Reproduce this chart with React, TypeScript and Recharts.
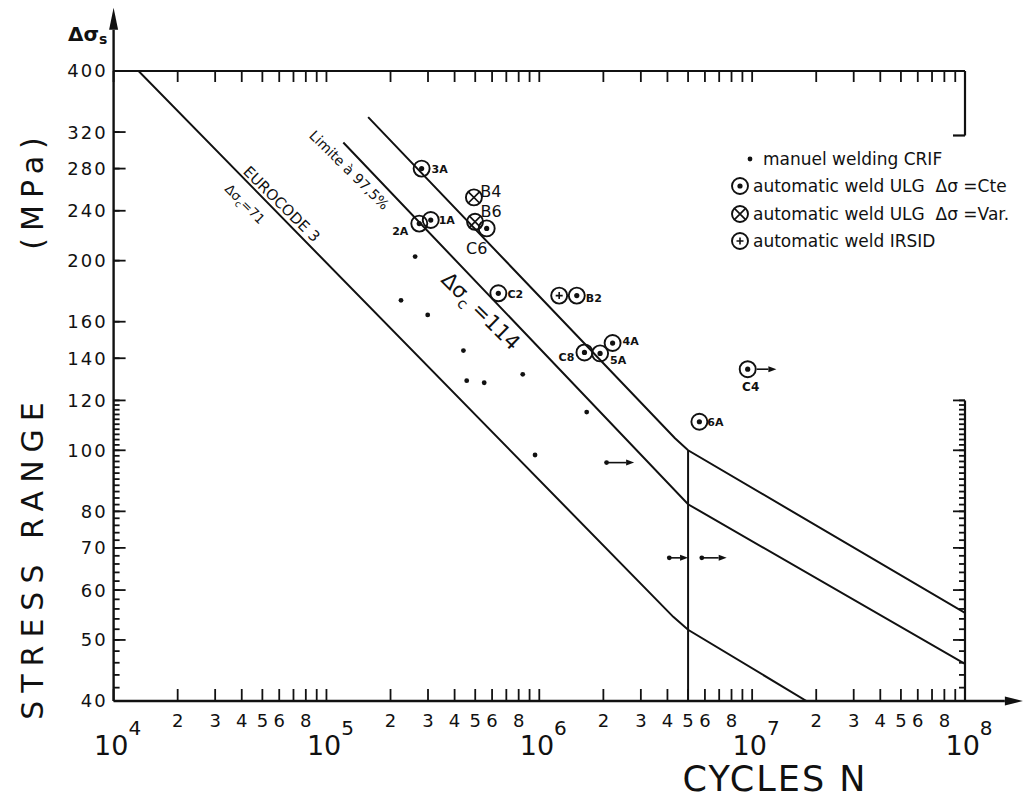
import React from "react";
import {
  ComposedChart,
  Legend,
  Line,
  ReferenceDot,
  ReferenceLine,
  Scatter,
  XAxis,
  YAxis,
} from "recharts";

const INK = "#111";
const FONT = "'DejaVu Sans', sans-serif";

// S-N curves, N cycles vs stress range (MPa), vertices
const eurocodeCurve = [
  { n: 1.31e4, s: 400 },
  { n: 4.26e6, s: 54.4 },
  { n: 5.0e6, s: 51.9 },
  { n: 1.8e7, s: 40 },
];
const curve114 = [
  { n: 1.2e5, s: 308 },
  { n: 5.0e6, s: 82.1 },
  { n: 1.0e8, s: 45.8 },
];
const upperCurve = [
  { n: 1.57e5, s: 338 },
  { n: 4.34e6, s: 104.5 },
  { n: 5.0e6, s: 100 },
  { n: 1.0e8, s: 55.2 },
];
const cutOffLine = [
  { n: 5.0e6, s: 100 },
  { n: 5.0e6, s: 40 },
];

// test results
const crifWelds = [
  { n: 2.61e5, s: 203 },
  { n: 2.24e5, s: 173 },
  { n: 2.99e5, s: 164 },
  { n: 4.4e5, s: 144 },
  { n: 4.56e5, s: 129 },
  { n: 5.51e5, s: 128 },
  { n: 8.36e5, s: 132 },
  { n: 9.55e5, s: 98.3 },
  { n: 1.67e6, s: 115 },
  { n: 2.07e6, s: 95.6 },
  { n: 4.08e6, s: 67.5 },
  { n: 5.8e6, s: 67.5 },
];
const ulgConstant = [
  { id: "3A", n: 2.8e5, s: 280 },
  { id: "2A", n: 2.73e5, s: 229 },
  { id: "1A", n: 3.09e5, s: 232 },
  { id: "C6", n: 5.66e5, s: 225 },
  { id: "C2", n: 6.42e5, s: 177.5 },
  { id: "B2", n: 1.5e6, s: 176 },
  { id: "C8", n: 1.63e6, s: 143 },
  { id: "5A", n: 1.93e6, s: 142.5 },
  { id: "4A", n: 2.21e6, s: 148 },
  { id: "6A", n: 5.65e6, s: 111 },
  { id: "C4", n: 9.53e6, s: 134.5 },
];
const ulgVariable = [
  { id: "B4", n: 4.93e5, s: 252 },
  { id: "B6", n: 4.99e5, s: 230.5 },
];
const irsidWelds = [{ id: "", n: 1.24e6, s: 176 }];

// run-outs (no failure): arrow from the result to the right
const runOuts = [
  { n: 2.07e6, s: 95.6, to: 2.79e6 },
  { n: 4.08e6, s: 67.5, to: 5.0e6 },
  { n: 5.8e6, s: 67.5, to: 7.59e6 },
  { n: 1.05e7, s: 134.5, to: 1.3e7 },
];

// ticks
const decades = [1e4, 1e5, 1e6, 1e7];
const decadeSteps = [1, 2, 3, 4, 5, 6, 7, 8, 9];
const numberedSteps = [2, 3, 4, 5, 6, 8];
const stressLabels = [40, 50, 60, 70, 80, 100, 120, 140, 160, 200, 240, 280, 320, 400];

const cycleTicks = decades.flatMap((d) => decadeSteps.map((k) => k * d)).concat(1e8);
const fineStress: number[] = [];
for (let v = 40; v <= 120; v += 2) fineStress.push(v);
const leftTicks = Array.from(new Set([...fineStress, ...stressLabels])).sort((a, b) => a - b);

const seriesNames = {
  crif: "manuel welding CRIF",
  ulgCte: "automatic weld ULG  Δσ =Cte",
  ulgVar: "automatic weld ULG  Δσ =Var.",
  irsid: "automatic weld IRSID",
};

const curveNotes = [
  { key: "ec3", n: 6.16e4, s: 246, text: "EUROCODE 3" },
  { key: "dc71", n: 4.14e4, s: 246, text: "Δσ", sub: "c", tail: "=71" },
  { key: "lim", n: 1.28e5, s: 278.5, text: "Limite à 97,5%" },
  { key: "dc114", n: 5.32e5, s: 166.4, text: "Δσ", sub: "c", tail: " =114" },
];
const noteSize: Record<string, number> = { ec3: 15, dc71: 13, lim: 14, dc114: 21 };

const idOffset: Record<string, [number, number]> = {
  "3A": [18, 0],
  "2A": [-19, 7],
  "1A": [16, 0],
  C6: [-10, 20],
  C2: [17, 1],
  B2: [17, 2],
  "4A": [18, -2],
  C8: [-18, 5],
  "5A": [18, 7],
  "6A": [16, 0],
  C4: [3, 17],
  B4: [17, -6],
  B6: [16, -11],
};

const tickStroke = { stroke: INK, strokeWidth: 1.8 };

function split(v: number) {
  const e = Math.floor(Math.log10(v) + 1e-9);
  return { k: Math.round(v / Math.pow(10, e)), e };
}

// bottom axis: tick lines point up 12px, so y here is 12px above the axis
function CycleLabel({ x, y, payload }: any) {
  const { k, e } = split(payload.value);
  const base = y + 12;
  if (k === 1) {
    return (
      <text x={x + 4} y={base + 54} textAnchor="middle" fontSize={27} fill={INK} fontFamily={FONT}>
        10
        <tspan fontSize={20} dy={-20}>
          {e}
        </tspan>
      </text>
    );
  }
  if (!numberedSteps.includes(k)) return <g />;
  return (
    <text x={x} y={base + 26} textAnchor="middle" fontSize={18} fill={INK} fontFamily={FONT}>
      {k}
    </text>
  );
}

// left axis: tick lines point right 6px; labelled values get a longer tick
function StressLabel({ x, y, payload }: any) {
  const v = payload.value;
  if (!stressLabels.includes(v)) return <g />;
  const axisX = x - 6;
  const edge = v === 40 || v === 400;
  return (
    <g>
      {!edge && <line x1={axisX} x2={axisX + 12} y1={y} y2={y} {...tickStroke} />}
      <text
        x={axisX - 6}
        y={y}
        dy="0.36em"
        textAnchor="end"
        fontSize={18}
        letterSpacing={2}
        fill={INK}
        fontFamily={FONT}
      >
        {v}
      </text>
    </g>
  );
}

function RightMajor({ x, y, payload }: any) {
  const v = payload.value;
  if (v === 40 || !stressLabels.includes(v)) return <g />;
  const axisX = x + 6;
  return <line x1={axisX} x2={axisX - 12} y1={y} y2={y} {...tickStroke} />;
}

function Marker({ kind, cx, cy }: { kind: string; cx: number; cy: number }) {
  if (kind === "crif") return <circle cx={cx} cy={cy} r={2.4} fill={INK} />;
  const ring = <circle cx={cx} cy={cy} r={8} fill="none" stroke={INK} strokeWidth={1.9} />;
  if (kind === "ulgCte")
    return (
      <g>
        {ring}
        <circle cx={cx} cy={cy} r={2.6} fill={INK} />
      </g>
    );
  if (kind === "ulgVar") {
    const d = 5.6;
    return (
      <g>
        {ring}
        <path
          d={`M${cx - d} ${cy - d}L${cx + d} ${cy + d}M${cx - d} ${cy + d}L${cx + d} ${cy - d}`}
          stroke={INK}
          strokeWidth={1.7}
        />
      </g>
    );
  }
  return (
    <g>
      {ring}
      <path d={`M${cx - 3.5} ${cy}H${cx + 3.5}M${cx} ${cy - 3.5}V${cy + 3.5}`} stroke={INK} strokeWidth={1.6} />
    </g>
  );
}

function PointMark(props: any) {
  const { cx, cy, payload, kind } = props;
  const id: string = payload?.id || "";
  const off = idOffset[id];
  const big = id === "B4" || id === "B6" || id === "C6";
  return (
    <g>
      <Marker kind={kind} cx={cx} cy={cy} />
      {off && (
        <text
          x={cx + off[0]}
          y={cy + off[1]}
          dy="0.36em"
          textAnchor="middle"
          fontSize={big ? 16 : id === "C4" ? 12 : 11}
          fontWeight={big ? "normal" : "bold"}
          fill={INK}
          fontFamily={FONT}
        >
          {id}
        </text>
      )}
    </g>
  );
}

function arrowShape(head: number, half: number, sw: number) {
  return (p: any) => {
    const { x1, y1, x2, y2 } = p;
    const a = Math.atan2(y2 - y1, x2 - x1);
    const bx = x2 - head * Math.cos(a);
    const by = y2 - head * Math.sin(a);
    const px = -Math.sin(a) * half;
    const py = Math.cos(a) * half;
    return (
      <g>
        <line x1={x1} y1={y1} x2={bx} y2={by} stroke={INK} strokeWidth={sw} />
        <polygon points={`${x2},${y2} ${bx + px},${by + py} ${bx - px},${by - py}`} fill={INK} />
      </g>
    );
  };
}

function frameShape(p: any) {
  return <line x1={p.x1} y1={p.y1} x2={p.x2} y2={p.y2} stroke={INK} strokeWidth={2.2} />;
}

function noteShape(note: any) {
  const size = noteSize[note.key];
  return (p: any) => (
    <text
      x={p.cx}
      y={p.cy}
      dy="0.35em"
      transform={`rotate(44.6 ${p.cx} ${p.cy})`}
      textAnchor="middle"
      fontSize={size}
      fill={INK}
      fontFamily={FONT}
    >
      {note.text}
      {note.sub && (
        <tspan fontSize={size * 0.72} dy={size * 0.25}>
          {note.sub}
        </tspan>
      )}
      {note.tail && <tspan dy={-size * 0.25}>{note.tail}</tspan>}
    </text>
  );
}

function LegendBox() {
  const rows = [
    { kind: "crif", label: seriesNames.crif },
    { kind: "ulgCte", label: seriesNames.ulgCte },
    { kind: "ulgVar", label: seriesNames.ulgVar },
    { kind: "irsid", label: seriesNames.irsid },
  ];
  return (
    <div style={{ fontFamily: FONT, fontSize: 17, color: INK }}>
      {rows.map((r) => (
        <div key={r.kind} style={{ display: "flex", alignItems: "center", height: 27.5 }}>
          <svg width={25} height={22} style={{ flex: "none" }}>
            <Marker kind={r.kind} cx={r.kind === "crif" ? 22 : 12} cy={11} />
          </svg>
          <span style={{ whiteSpace: "pre", marginLeft: r.kind === "crif" ? 10 : 0 }}>{r.label}</span>
        </div>
      ))}
    </div>
  );
}

export default function App() {
  return (
    <div style={{ width: 1025, height: 798, background: "#fff", fontFamily: FONT }}>
      <style>{"body{margin:0}"}</style>
      <ComposedChart width={1025} height={798} margin={{ top: 61, right: 50, bottom: 7, left: 53.6 }}>
        <XAxis
          dataKey="n"
          type="number"
          scale="log"
          domain={[1e4, 1e8]}
          allowDataOverflow
          ticks={cycleTicks}
          interval={0}
          tick={(p: any) => <CycleLabel {...p} />}
          tickSize={-12}
          tickMargin={0}
          tickLine={tickStroke}
          axisLine={false}
          height={90}
        />
        <XAxis
          xAxisId="top"
          orientation="top"
          dataKey="n"
          type="number"
          scale="log"
          domain={[1e4, 1e8]}
          allowDataOverflow
          ticks={cycleTicks}
          interval={0}
          tick={() => <g />}
          tickSize={-11}
          tickMargin={0}
          tickLine={tickStroke}
          axisLine={{ stroke: INK, strokeWidth: 2.2 }}
          height={10}
        />
        <YAxis
          dataKey="s"
          type="number"
          scale="log"
          domain={[40, 400]}
          allowDataOverflow
          ticks={leftTicks}
          interval={0}
          tick={(p: any) => <StressLabel {...p} />}
          tickSize={-6}
          tickMargin={0}
          tickLine={tickStroke}
          axisLine={false}
          width={60}
        />
        <YAxis
          yAxisId="right"
          orientation="right"
          dataKey="s"
          type="number"
          scale="log"
          domain={[40, 400]}
          allowDataOverflow
          ticks={fineStress}
          interval={0}
          tick={(p: any) => <RightMajor {...p} />}
          tickSize={-6}
          tickMargin={0}
          tickLine={tickStroke}
          axisLine={false}
          width={10}
        />

        {/* axes with arrows and the broken right frame */}
        <ReferenceLine
          segment={[{ x: 1e4, y: 40 }, { x: 1e4, y: 504 }]}
          ifOverflow="visible"
          shape={arrowShape(22, 4.5, 2.4)}
        />
        <ReferenceLine
          segment={[{ x: 1e4, y: 40 }, { x: 1.87e8, y: 40 }]}
          ifOverflow="visible"
          shape={arrowShape(18, 4.5, 2.4)}
        />
        <ReferenceLine segment={[{ x: 1e8, y: 40 }, { x: 1e8, y: 120 }]} ifOverflow="visible" shape={frameShape} />
        <ReferenceLine segment={[{ x: 1e8, y: 400 }, { x: 1e8, y: 316 }]} ifOverflow="visible" shape={frameShape} />
        <ReferenceLine segment={[{ x: 8.78e7, y: 316 }, { x: 1e8, y: 316 }]} ifOverflow="visible" shape={frameShape} />

        <Line data={eurocodeCurve} dataKey="s" type="linear" stroke={INK} strokeWidth={2} dot={false} legendType="none" isAnimationActive={false} />
        <Line data={curve114} dataKey="s" type="linear" stroke={INK} strokeWidth={2} dot={false} legendType="none" isAnimationActive={false} />
        <Line data={upperCurve} dataKey="s" type="linear" stroke={INK} strokeWidth={2} dot={false} legendType="none" isAnimationActive={false} />
        <Line data={cutOffLine} dataKey="s" type="linear" stroke={INK} strokeWidth={2} dot={false} legendType="none" isAnimationActive={false} />

        {runOuts.map((r, i) => (
          <ReferenceLine
            key={`run${i}`}
            segment={[{ x: r.n, y: r.s }, { x: r.to, y: r.s }]}
            ifOverflow="visible"
            shape={arrowShape(8, 3, 1.6)}
          />
        ))}

        <Scatter name={seriesNames.crif} data={crifWelds} isAnimationActive={false} shape={(p: any) => <PointMark {...p} kind="crif" />} />
        <Scatter name={seriesNames.ulgCte} data={ulgConstant} isAnimationActive={false} shape={(p: any) => <PointMark {...p} kind="ulgCte" />} />
        <Scatter name={seriesNames.ulgVar} data={ulgVariable} isAnimationActive={false} shape={(p: any) => <PointMark {...p} kind="ulgVar" />} />
        <Scatter name={seriesNames.irsid} data={irsidWelds} isAnimationActive={false} shape={(p: any) => <PointMark {...p} kind="irsid" />} />

        {curveNotes.map((note) => (
          <ReferenceDot key={note.key} x={note.n} y={note.s} ifOverflow="visible" shape={noteShape(note)} />
        ))}

        <Legend
          layout="vertical"
          align="center"
          verticalAlign="middle"
          width={297}
          wrapperStyle={{ left: 728, top: 145, width: 297 }}
          content={() => <LegendBox />}
        />

        <text x={68} y={41} fontSize={20} fontWeight="bold" fill={INK} fontFamily={FONT}>
          Δσ
          <tspan fontSize={14} dy={3}>
            s
          </tspan>
        </text>
        <text
          x={43}
          y={557}
          transform="rotate(-90 43 557)"
          textAnchor="middle"
          fontSize={30}
          letterSpacing={8}
          fill={INK}
          fontFamily={FONT}
        >
          STRESS RANGE
        </text>
        <text
          x={43}
          y={190}
          transform="rotate(-90 43 190)"
          textAnchor="middle"
          fontSize={30}
          letterSpacing={7}
          fill={INK}
          fontFamily={FONT}
        >
          (MPa)
        </text>
        <text x={775} y={791} textAnchor="middle" fontSize={35} letterSpacing={2} fill={INK} fontFamily={FONT}>
          CYCLES N
        </text>
      </ComposedChart>
    </div>
  );
}
